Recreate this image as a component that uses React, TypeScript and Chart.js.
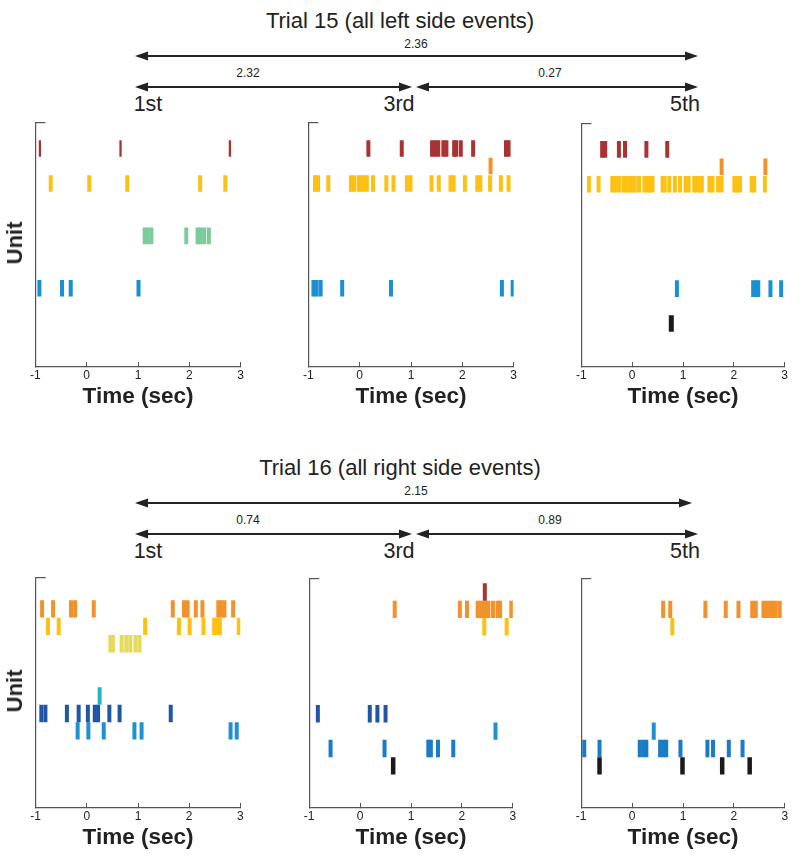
import React, { useEffect, useRef } from 'react';
import { Chart, registerables } from 'chart.js';

Chart.register(...registerables);

const FONT = '"Liberation Sans", Arial, Helvetica, sans-serif';

// ---------- axis ticks ----------
const X_TICKS = [-1, 0, 1, 2, 3];
const X_MIN = -1;
const X_MAX = 3;

// ---------- Trial 15 (all left side events): unit row index ----------
const T15_ROW_RED = 0;
const T15_ROW_ORANGE = 1;
const T15_ROW_YELLOW = 2;
const T15_ROW_GREEN = 5;
const T15_ROW_BLUE = 8;
const T15_ROW_BLACK = 10;

// Trial 15, aligned on 1st event (spike times, sec)
const t15e1_red = [-0.91, 0.66, 2.79];
const t15e1_yellow = [-0.7, 0.05, 0.79, 2.21, 2.7];
const t15e1_green = [1.13, 1.19, 1.26, 1.94, 2.16, 2.22, 2.29, 2.38];
const t15e1_blue = [-0.92, -0.48, -0.31, 1.01];

// Trial 15, aligned on 3rd event
const t15e3_red = [0.17, 0.82, 1.41, 1.47, 1.53, 1.63, 1.69, 1.84, 1.88, 1.97, 2.21, 2.85, 2.9];
const t15e3_orange = [2.55];
const t15e3_yellow = [-0.87, -0.81, -0.61, -0.17, -0.11, -0.02, 0.03, 0.08, 0.14, 0.26, 0.52, 0.66, 0.92, 0.99, 1.4, 1.54, 1.77, 1.83, 2.05, 2.29, 2.35, 2.54, 2.75, 2.9];
const t15e3_blue = [-0.9, -0.84, -0.76, -0.34, 0.61, 2.77, 2.98];

// Trial 15, aligned on 5th event
const t15e5_red = [-0.59, -0.53, -0.26, -0.14, 0.28, 0.69];
const t15e5_orange = [1.76, 2.62];
const t15e5_yellow = [-0.85, -0.66, -0.39, -0.33, -0.26, -0.17, -0.13, -0.06, 0.0, 0.05, 0.135, 0.24, 0.3, 0.35, 0.4, 0.6, 0.64, 0.73, 0.84, 0.94, 1.05, 1.11, 1.22, 1.27, 1.33, 1.37, 1.52, 1.58, 1.69, 1.76, 2.01, 2.07, 2.12, 2.35, 2.4, 2.61];
const t15e5_blue = [0.88, 2.38, 2.43, 2.48, 2.72, 2.93];
const t15e5_black = [0.77];

// ---------- Trial 16 (all right side events): unit row index ----------
const T16_ROW_DARKRED = 0;
const T16_ROW_ORANGE = 1;
const T16_ROW_YELLOW = 2;
const T16_ROW_PALEYELLOW = 3;
const T16_ROW_TEAL = 6;
const T16_ROW_DARKBLUE = 7;
const T16_ROW_LIGHTBLUE = 8;
const T16_ROW_BLUE = 9;
const T16_ROW_BLACK = 10;

// Trial 16, aligned on 1st event
const t16e1_orange = [-0.875, -0.66, -0.31, -0.23, 0.135, 1.68, 1.9, 1.97, 2.13, 2.26, 2.57, 2.63, 2.69, 2.86];
const t16e1_yellow = [-0.76, -0.55, 1.14, 1.8, 2.01, 2.28, 2.49, 2.54, 2.6, 2.97];
const t16e1_paleyellow = [0.46, 0.51, 0.68, 0.77, 0.85, 0.95, 1.03];
const t16e1_teal = [0.25];
const t16e1_darkblue = [-0.89, -0.81, -0.39, -0.16, 0.02, 0.155, 0.22, 0.44, 0.64, 1.64];
const t16e1_lightblue = [-0.18, 0.03, 0.33, 0.93, 1.07, 2.81, 2.93];

// Trial 16, aligned on 3rd event
const t16e3_darkred = [2.45];
const t16e3_orange = [0.68, 1.96, 2.1, 2.31, 2.36, 2.41, 2.46, 2.52, 2.61, 2.7, 2.75, 2.97];
const t16e3_yellow = [2.44, 2.88];
const t16e3_darkblue = [-0.83, 0.19, 0.34, 0.5];
const t16e3_lightblue = [2.66];
const t16e3_blue = [-0.58, 0.48, 1.34, 1.39, 1.53, 1.83];
const t16e3_black = [0.65];

// Trial 16, aligned on 5th event
const t16e5_orange = [0.61, 0.75, 1.44, 1.84, 2.09, 2.36, 2.43, 2.58, 2.64, 2.71, 2.76, 2.82, 2.9];
const t16e5_yellow = [0.79];
const t16e5_lightblue = [0.425];
const t16e5_blue = [-0.94, -0.64, 0.15, 0.22, 0.28, 0.55, 0.61, 0.67, 0.95, 1.48, 1.59, 1.9, 2.17];
const t16e5_black = [-0.64, 0.99, 1.77, 2.31];

// ---------- interval annotations ----------
const T15_TITLE = 'Trial 15 (all left side events)';
const T15_INTERVALS = ['2.36', '2.32', '0.27'];
const T16_TITLE = 'Trial 16 (all right side events)';
const T16_INTERVALS = ['2.15', '0.74', '0.89'];
const EVENT_LABELS = ['1st', '3rd', '5th'];

// ---------- colours ----------
const C = {
  red: '#a93333',
  orange: '#f1922c',
  yellow: '#fdc114',
  green: '#7ccb9b',
  blue: '#1a8fd3',
  black: '#1a1a1a',
  paleyellow: '#e4da5e',
  teal: '#25b4c1',
  darkblue: '#1f57a5',
  lightblue: '#1f90d2',
  blue2: '#1a7cc5',
};

type Train = { row: number; color: string; times: number[]; width?: number };

type PanelProps = {
  axisX: number;
  axisTop: number;
  trains: Train[];
  yMin: number;
  yMax: number;
  tickHalf: number;
};

const PLOT_W = 208;
const PLOT_H_TOP = 248;

function Raster({ axisX, axisTop, trains, yMin, yMax, tickHalf, plotH }: PanelProps & { plotH: number }) {
  const ref = useRef<HTMLCanvasElement | null>(null);
  const padL = 12;
  const padT = 9;
  const padR = 10;
  const xAxisH = 44;
  const W = padL + PLOT_W + padR;
  const H = padT + plotH + xAxisH;
  useEffect(() => {
    const chart = new Chart(ref.current as HTMLCanvasElement, {
      type: 'scatter',
      data: {
        datasets: trains.map((t) => ({
          data: t.times.map((x) => ({ x, y: t.row })),
          showLine: false,
          pointStyle: 'line',
          pointRotation: 90,
          pointRadius: tickHalf,
          pointHoverRadius: tickHalf,
          pointBorderWidth: t.width ?? 4,
          pointHoverBorderWidth: t.width ?? 4,
          pointBorderColor: t.color,
          pointBackgroundColor: t.color,
          borderColor: t.color,
          backgroundColor: t.color,
        })),
      },
      options: {
        responsive: false,
        animation: false,
        events: [],
        layout: { padding: { left: padL, top: padT, right: padR, bottom: 0 } },
        plugins: { legend: { display: false }, tooltip: { enabled: false }, title: { display: false } },
        scales: {
          x: {
            type: 'linear',
            position: 'bottom',
            min: X_MIN,
            max: X_MAX,
            afterBuildTicks: (s: any) => {
              s.ticks = X_TICKS.map((v) => ({ value: v }));
            },
            afterFit: (s: any) => {
              s.height = xAxisH;
            },
            ticks: {
              color: '#222',
              font: { family: FONT, size: 12 },
              padding: 6,
              maxRotation: 0,
              autoSkip: false,
            },
            grid: {
              display: true,
              drawOnChartArea: false,
              drawTicks: true,
              tickLength: -5,
              color: '#555',
              lineWidth: 1,
            },
            border: { display: true, color: '#555', width: 1.2 },
            title: {
              display: true,
              text: 'Time (sec)',
              color: '#222',
              font: { family: FONT, size: 22.5, weight: 'bold' },
              padding: { top: 0, bottom: 1 },
            },
          },
          y: {
            type: 'linear',
            reverse: true,
            min: yMin,
            max: yMax,
            afterBuildTicks: (s: any) => {
              s.ticks = [{ value: yMin }];
            },
            afterFit: (s: any) => {
              s.width = 0;
            },
            ticks: { display: false },
            grid: {
              display: true,
              drawOnChartArea: false,
              drawTicks: true,
              tickLength: -10,
              color: '#555',
              lineWidth: 1.2,
            },
            border: { display: true, color: '#555', width: 1.2 },
          },
        },
      } as any,
    });
    return () => chart.destroy();
  }, []);
  return (
    <canvas
      ref={ref}
      width={W}
      height={H}
      style={{ position: 'absolute', left: axisX - padL, top: axisTop - padT, width: W, height: H }}
    />
  );
}

function Arrow({ x1, x2, y }: { x1: number; x2: number; y: number }) {
  const hl = 13;
  const hw = 4.5;
  return (
    <g>
      <line x1={x1 + hl - 1} y1={y} x2={x2 - hl + 1} y2={y} stroke="#222" strokeWidth={2} />
      <polygon points={`${x1},${y} ${x1 + hl},${y - hw} ${x1 + hl},${y + hw}`} fill="#222" />
      <polygon points={`${x2},${y} ${x2 - hl},${y - hw} ${x2 - hl},${y + hw}`} fill="#222" />
    </g>
  );
}

function Header({ y0, title, intervals, topRight }: { y0: number; title: string; intervals: string[]; topRight: number }) {
  return (
    <g fontFamily={FONT} fill="#222">
      <text x={400} y={y0} fontSize={22} textAnchor="middle" dominantBaseline="central">{title}</text>
      <text x={416} y={y0 + 24} fontSize={12} textAnchor="middle" dominantBaseline="central">{intervals[0]}</text>
      <Arrow x1={135} x2={topRight} y={y0 + 36} />
      <text x={248} y={y0 + 53} fontSize={12} textAnchor="middle" dominantBaseline="central">{intervals[1]}</text>
      <text x={550} y={y0 + 53} fontSize={12} textAnchor="middle" dominantBaseline="central">{intervals[2]}</text>
      <Arrow x1={135} x2={412} y={y0 + 67} />
      <Arrow x1={416} x2={698} y={y0 + 67} />
      <text x={148} y={y0 + 84} fontSize={21.5} textAnchor="middle" dominantBaseline="central">{EVENT_LABELS[0]}</text>
      <text x={399} y={y0 + 84} fontSize={21.5} textAnchor="middle" dominantBaseline="central">{EVENT_LABELS[1]}</text>
      <text x={685} y={y0 + 84} fontSize={21.5} textAnchor="middle" dominantBaseline="central">{EVENT_LABELS[2]}</text>
    </g>
  );
}

function UnitLabel({ cy }: { cy: number }) {
  return (
    <div
      style={{
        position: 'absolute',
        left: 15,
        top: cy,
        transform: 'translate(-50%, -50%) rotate(-90deg)',
        fontFamily: FONT,
        fontWeight: 'bold',
        fontSize: 22,
        color: '#222',
        whiteSpace: 'nowrap',
        lineHeight: 1,
      }}
    >
      Unit
    </div>
  );
}

const AXIS_X = [35, 308, 580];
const TOP_AXIS_Y = 119;
const BOT_AXIS_Y = 574;
const PLOT_H_BOT = 234;
const ROW_PX = 17.71;
const T15_YMIN = -1.5;
const T15_YMAX = T15_YMIN + PLOT_H_TOP / ROW_PX;
const T16_YMIN = -(588 - BOT_AXIS_Y) / ROW_PX;
const T16_YMAX = T16_YMIN + PLOT_H_BOT / ROW_PX;

export default function App() {
  const t15Panels: Train[][] = [
    [
      { row: T15_ROW_RED, color: C.red, times: t15e1_red, width: 2.3 },
      { row: T15_ROW_YELLOW, color: C.yellow, times: t15e1_yellow },
      { row: T15_ROW_GREEN, color: C.green, times: t15e1_green },
      { row: T15_ROW_BLUE, color: C.blue, times: t15e1_blue },
    ],
    [
      { row: T15_ROW_RED, color: C.red, times: t15e3_red },
      { row: T15_ROW_ORANGE, color: C.orange, times: t15e3_orange },
      { row: T15_ROW_YELLOW, color: C.yellow, times: t15e3_yellow },
      { row: T15_ROW_BLUE, color: C.blue, times: t15e3_blue },
    ],
    [
      { row: T15_ROW_RED, color: C.red, times: t15e5_red },
      { row: T15_ROW_ORANGE, color: C.orange, times: t15e5_orange },
      { row: T15_ROW_YELLOW, color: C.yellow, times: t15e5_yellow },
      { row: T15_ROW_BLUE, color: C.blue, times: t15e5_blue },
      { row: T15_ROW_BLACK, color: C.black, times: t15e5_black, width: 5 },
    ],
  ];
  const t16Panels: Train[][] = [
    [
      { row: T16_ROW_ORANGE, color: C.orange, times: t16e1_orange },
      { row: T16_ROW_YELLOW, color: C.yellow, times: t16e1_yellow },
      { row: T16_ROW_PALEYELLOW, color: C.paleyellow, times: t16e1_paleyellow },
      { row: T16_ROW_TEAL, color: C.teal, times: t16e1_teal },
      { row: T16_ROW_DARKBLUE, color: C.darkblue, times: t16e1_darkblue },
      { row: T16_ROW_LIGHTBLUE, color: C.lightblue, times: t16e1_lightblue },
    ],
    [
      { row: T16_ROW_DARKRED, color: C.red, times: t16e3_darkred },
      { row: T16_ROW_ORANGE, color: C.orange, times: t16e3_orange },
      { row: T16_ROW_YELLOW, color: C.yellow, times: t16e3_yellow },
      { row: T16_ROW_DARKBLUE, color: C.darkblue, times: t16e3_darkblue },
      { row: T16_ROW_LIGHTBLUE, color: C.lightblue, times: t16e3_lightblue },
      { row: T16_ROW_BLUE, color: C.blue2, times: t16e3_blue },
      { row: T16_ROW_BLACK, color: C.black, times: t16e3_black, width: 4.5 },
    ],
    [
      { row: T16_ROW_ORANGE, color: C.orange, times: t16e5_orange },
      { row: T16_ROW_YELLOW, color: C.yellow, times: t16e5_yellow },
      { row: T16_ROW_LIGHTBLUE, color: C.lightblue, times: t16e5_lightblue },
      { row: T16_ROW_BLUE, color: C.blue2, times: t16e5_blue },
      { row: T16_ROW_BLACK, color: C.black, times: t16e5_black, width: 4.5 },
    ],
  ];

  return (
    <div
      style={{
        position: 'absolute',
        left: 0,
        top: 0,
        width: 800,
        height: 859,
        overflow: 'hidden',
        background: '#fff',
      }}
    >
      <svg width={800} height={859} style={{ position: 'absolute', left: 0, top: 0 }}>
        <Header y0={20} title={T15_TITLE} intervals={T15_INTERVALS} topRight={698} />
        <Header y0={467} title={T16_TITLE} intervals={T16_INTERVALS} topRight={692} />
      </svg>
      {t15Panels.map((trains, i) => (
        <Raster
          key={'t15-' + i}
          axisX={AXIS_X[i]}
          axisTop={TOP_AXIS_Y}
          trains={trains}
          yMin={T15_YMIN}
          yMax={T15_YMAX}
          tickHalf={8.3}
          plotH={PLOT_H_TOP}
        />
      ))}
      {t16Panels.map((trains, i) => (
        <Raster
          key={'t16-' + i}
          axisX={AXIS_X[i]}
          axisTop={BOT_AXIS_Y}
          trains={trains}
          yMin={T16_YMIN}
          yMax={T16_YMAX}
          tickHalf={8.7}
          plotH={PLOT_H_BOT}
        />
      ))}
      <UnitLabel cy={243} />
      <UnitLabel cy={691} />
    </div>
  );
}
